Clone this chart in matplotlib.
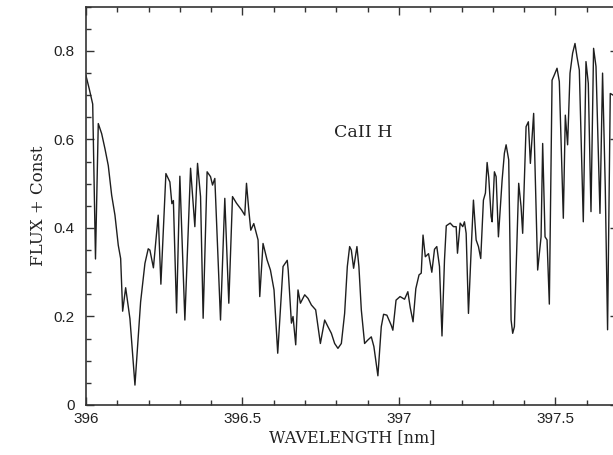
import matplotlib
matplotlib.use("Agg")
import matplotlib.pyplot as plt
from matplotlib.ticker import MultipleLocator

# traced spectrum around the Ca II H line
wavelength = [
    396.0000, 396.0105, 396.0214, 396.0303, 396.0392, 396.0501, 396.0606, 396.0712,
    396.0820, 396.0925, 396.1031, 396.1107, 396.1171, 396.1267, 396.1404, 396.1564,
    396.1745, 396.1883, 396.1988, 396.2042, 396.2154, 396.2307, 396.2393, 396.2553,
    396.2680, 396.2744, 396.2792, 396.2894, 396.2999, 396.3159, 396.3341, 396.3478,
    396.3564, 396.3660, 396.3743, 396.3870, 396.3979, 396.4043, 396.4116, 396.4298,
    396.4435, 396.4563, 396.4681, 396.4809, 396.4968, 396.5073, 396.5128, 396.5201,
    396.5265, 396.5361, 396.5498, 396.5552, 396.5657, 396.5785, 396.5893, 396.6008,
    396.6126, 396.6296, 396.6430, 396.6461, 396.6564, 396.6615, 396.6701, 396.6774,
    396.6851, 396.6988, 396.7093, 396.7202, 396.7339, 396.7489, 396.7626, 396.7731,
    396.7840, 396.7945, 396.8050, 396.8159, 396.8264, 396.8350, 396.8424, 396.8478,
    396.8551, 396.8657, 396.8720, 396.8797, 396.8902, 396.9008, 396.9116, 396.9199,
    396.9327, 396.9435, 396.9509, 396.9614, 396.9754, 396.9805, 396.9907, 397.0035,
    397.0179, 397.0284, 397.0361, 397.0450, 397.0539, 397.0641, 397.0712, 397.0769,
    397.0842, 397.0945, 397.1050, 397.1136, 397.1209, 397.1295, 397.1375, 397.1455,
    397.1512, 397.1637, 397.1742, 397.1828, 397.1870, 397.1956, 397.2039, 397.2093,
    397.2147, 397.2221, 397.2307, 397.2380, 397.2466, 397.2540, 397.2613, 397.2699,
    397.2763, 397.2817, 397.2869, 397.2945, 397.2977, 397.3050, 397.3105, 397.3178,
    397.3296, 397.3369, 397.3424, 397.3507, 397.3583, 397.3634, 397.3689, 397.3826,
    397.3902, 397.3953, 397.4062, 397.4135, 397.4199, 397.4304, 397.4432, 397.4541,
    397.4592, 397.4668, 397.4732, 397.4805, 397.4892, 397.4965, 397.5051, 397.5124,
    397.5252, 397.5316, 397.5389, 397.5466, 397.5549, 397.5625, 397.5689, 397.5763,
    397.5890, 397.5976, 397.6050, 397.6136, 397.6219, 397.6296, 397.6423, 397.6506,
    397.6592, 397.6666, 397.6752, 397.6848,
]
flux = [
    0.744, 0.714, 0.680, 0.330, 0.636, 0.613, 0.579, 0.541,
    0.474, 0.429, 0.361, 0.331, 0.212, 0.265, 0.195, 0.045,
    0.233, 0.320, 0.353, 0.350, 0.310, 0.429, 0.273, 0.523,
    0.504, 0.455, 0.462, 0.208, 0.517, 0.192, 0.535, 0.403,
    0.546, 0.471, 0.196, 0.527, 0.516, 0.497, 0.512, 0.192,
    0.467, 0.230, 0.471, 0.456, 0.441, 0.429, 0.501, 0.441,
    0.395, 0.410, 0.373, 0.245, 0.365, 0.328, 0.305, 0.260,
    0.117, 0.313, 0.327, 0.305, 0.185, 0.200, 0.136, 0.260,
    0.230, 0.249, 0.241, 0.226, 0.215, 0.139, 0.192, 0.177,
    0.162, 0.139, 0.128, 0.139, 0.207, 0.313, 0.358, 0.350,
    0.309, 0.358, 0.313, 0.215, 0.139, 0.147, 0.154, 0.132,
    0.066, 0.177, 0.205, 0.203, 0.180, 0.169, 0.237, 0.245,
    0.239, 0.256, 0.220, 0.188, 0.263, 0.294, 0.298, 0.384,
    0.335, 0.342, 0.300, 0.352, 0.358, 0.313, 0.156, 0.328,
    0.405, 0.411, 0.403, 0.403, 0.343, 0.411, 0.403, 0.414,
    0.388, 0.207, 0.350, 0.463, 0.373, 0.358, 0.331, 0.463,
    0.479, 0.548, 0.514, 0.426, 0.414, 0.527, 0.516, 0.380,
    0.508, 0.569, 0.588, 0.554, 0.192, 0.162, 0.177, 0.501,
    0.448, 0.388, 0.629, 0.640, 0.546, 0.659, 0.305, 0.380,
    0.591, 0.380, 0.373, 0.228, 0.734, 0.746, 0.761, 0.731,
    0.422, 0.655, 0.588, 0.750, 0.795, 0.817, 0.787, 0.757,
    0.414, 0.776, 0.727, 0.437, 0.806, 0.765, 0.433, 0.750,
    0.493, 0.170, 0.704, 0.700,
]

xticks = [396, 396.5, 397, 397.5]
xtick_labels = ["396", "396.5", "397", "397.5"]
yticks = [0, 0.2, 0.4, 0.6, 0.8]
ytick_labels = ["0", "0.2", "0.4", "0.6", "0.8"]

fig = plt.figure(figsize=(6.13, 4.55), dpi=100)
# the right edge of the frame is cut off in the original scan
ax = fig.add_axes([0.1403, 0.1099, 0.8679, 0.8753])

ax.plot(wavelength, flux, color="#1e1e1e", lw=1.0)

ax.set_xlim(396, 397.7)
ax.set_ylim(0, 0.9)

ax.set_xticks(xticks)
ax.set_xticklabels(xtick_labels)
ax.set_yticks(yticks)
ax.set_yticklabels(ytick_labels)
ax.xaxis.set_minor_locator(MultipleLocator(0.1))
ax.yaxis.set_minor_locator(MultipleLocator(0.05))

ax.tick_params(which="both", direction="in", top=True, right=True, width=1.0,
               color="#333333", labelcolor="#222222")
ax.tick_params(which="major", length=6)
ax.tick_params(which="minor", length=3.5)
ax.tick_params(axis="x", which="major", pad=5, labelsize=11)
ax.tick_params(axis="y", which="major", pad=8, labelsize=11)
for lab in ax.get_xticklabels() + ax.get_yticklabels():
    lab.set_family("Liberation Sans")

for sp in ax.spines.values():
    sp.set_linewidth(1.2)
    sp.set_color("#333333")

ax.set_xlabel("WAVELENGTH [nm]", family="DejaVu Serif", fontsize=11.5,
              color="#222222", labelpad=2)
ax.set_ylabel("FLUX + Const", family="DejaVu Serif", fontsize=12,
              color="#222222", labelpad=5)
ax.text(396.887, 0.615, "CaII H", family="DejaVu Serif", fontsize=12.5,
        color="#222222", ha="center", va="center")

fig.savefig("out.png", dpi=100)
